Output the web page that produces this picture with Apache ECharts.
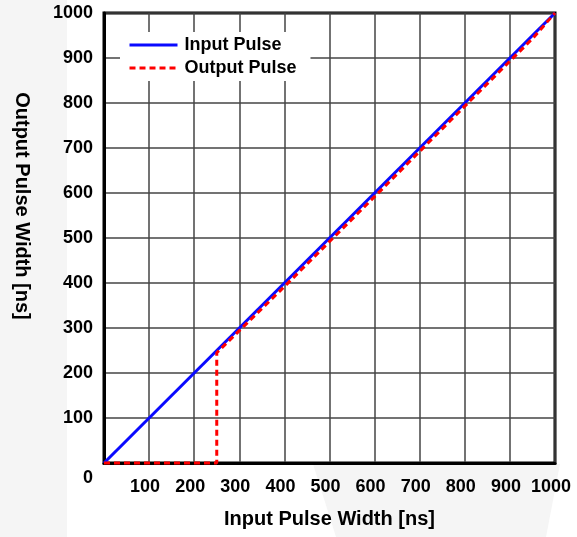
<!DOCTYPE html>
<html>
<head>
<meta charset="utf-8">
<script src="https://cdn.jsdelivr.net/npm/echarts@6/dist/echarts.min.js"></script>
<style>
  html, body { margin: 0; padding: 0; background: #fff; }
  #chart { width: 577px; height: 537px; }
</style>
</head>
<body>
<div id="chart"></div>
<script>
// input pulse: output = input
const inputPulse = [[0, 0], [1000, 1000]]
// output pulse: nothing below ~250 ns, then follows input slightly shorter
const outputPulse = [[0, 0], [250, 0], [250, 245], [400, 392], [600, 592], [800, 793], [950, 943], [1000, 1000]]
const xTicks = [0, 100, 200, 300, 400, 500, 600, 700, 800, 900, 1000]
const yTicks = [0, 100, 200, 300, 400, 500, 600, 700, 800, 900, 1000]

const font = 'Liberation Sans, Arial, sans-serif'
const chart = echarts.init(document.getElementById('chart'))

chart.setOption({
  animation: false,
  backgroundColor: '#fff',
  graphic: [
    { type: 'rect', z: -10, shape: { x: 0, y: 0, width: 67, height: 537 }, style: { fill: '#f5f5f5' } },
    { type: 'polygon', z: -10, shape: { points: [[313, 464], [560, 464], [546, 537], [336, 537]] }, style: { fill: '#f5f5f5' } }
  ],
  grid: {
    left: 104,
    right: 22,
    top: 13,
    bottom: 74,
    show: true,
    backgroundColor: '#fff',
    borderColor: '#000',
    borderWidth: 3
  },
  legend: {
    orient: 'vertical',
    left: 120,
    top: 32,
    backgroundColor: '#fff',
    padding: [4, 14, 4, 8],
    itemWidth: 48,
    itemHeight: 14,
    itemGap: 5,
    itemStyle: { opacity: 0 },
    lineStyle: { width: 3 },
    textStyle: { fontFamily: font, fontWeight: 'bold', fontSize: 18, color: '#000', padding: [0, 0, 0, 2] },
    data: ['Input Pulse', 'Output Pulse']
  },
  xAxis: {
    type: 'value',
    min: xTicks[0],
    max: xTicks[xTicks.length - 1],
    interval: 100,
    name: 'Input Pulse Width [ns]',
    nameLocation: 'middle',
    nameGap: 46,
    nameTextStyle: { fontFamily: font, fontWeight: 'bold', fontSize: 20, color: '#000' },
    axisLine: { lineStyle: { color: '#000', width: 3 } },
    axisTick: { show: false },
    splitLine: { lineStyle: { color: '#444', width: 1.5 } },
    axisLabel: {
      margin: 15,
      fontFamily: font,
      fontWeight: 'bold',
      fontSize: 18,
      color: '#000',
      padding: [0, 8, 0, 0],
      formatter: v => (v === 0 ? '' : v)
    }
  },
  yAxis: {
    type: 'value',
    min: yTicks[0],
    max: yTicks[yTicks.length - 1],
    interval: 100,
    name: 'Output Pulse Width [ns]',
    nameLocation: 'middle',
    nameRotate: -90,
    nameGap: 72,
    nameTextStyle: { fontFamily: font, fontWeight: 'bold', fontSize: 20, color: '#000', padding: [0, 64, 0, 0] },
    axisLine: { lineStyle: { color: '#000', width: 3 } },
    axisTick: { show: false },
    splitLine: { lineStyle: { color: '#444', width: 1.5 } },
    axisLabel: {
      margin: 11,
      fontFamily: font,
      fontWeight: 'bold',
      fontSize: 18,
      color: '#000',
      formatter: v => (v === 0 ? '{z|0}' : v),
      rich: { z: { fontFamily: font, fontWeight: 'bold', fontSize: 18, color: '#000', padding: [30, 0, 0, 0] } }
    }
  },
  series: [
    {
      name: 'Input Pulse',
      type: 'line',
      data: inputPulse,
      symbol: 'none',
      clip: false,
      color: '#0a0aff',
      lineStyle: { color: '#0a0aff', width: 3 }
    },
    {
      name: 'Output Pulse',
      type: 'line',
      data: outputPulse,
      symbol: 'none',
      clip: false,
      color: '#ff0000',
      lineStyle: { color: '#ff0000', width: 3, type: [6, 4] }
    }
  ]
})
</script>
</body>
</html>
